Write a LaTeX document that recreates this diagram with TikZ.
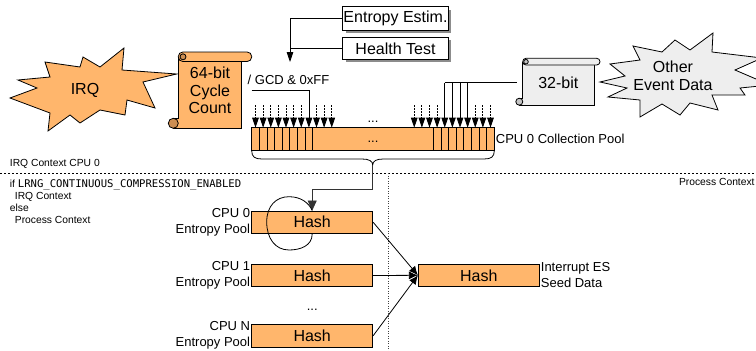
\documentclass[tikz,border=0pt]{standalone}
\usepackage{fontspec}
\setmainfont{Liberation Sans}
\newfontfamily\monof{DejaVu Sans Mono}
\usetikzlibrary{arrows.meta,shadows}
\definecolor{orfill}{RGB}{255,182,108}
\definecolor{orcurl}{RGB}{205,142,82}
\definecolor{gyfill}{RGB}{238,238,238}
\definecolor{gycurl}{RGB}{195,195,195}
\newcommand\fsbig{\fontsize{16}{17.5}\selectfont}
\newcommand\fsmed{\fontsize{13}{15.4}\selectfont}
\newcommand\fssmall{\fontsize{10.3}{12}\selectfont}
\tikzset{
  hashbox/.style={draw, fill=orfill, minimum width=121pt, minimum height=22.5pt, inner sep=0pt, font=\fsbig},
  lbl/.style={align=right, anchor=east, font=\fsmed, inner sep=0pt},
  tbox/.style={draw, fill=white, minimum width=105.6pt, minimum height=22.5pt, inner sep=0pt, font=\fsbig,
     drop shadow={shadow xshift=3pt, shadow yshift=-3pt, fill=black!45, opacity=1}},
  pooltip/.style={-{Triangle[width=6.6pt,length=10pt]}},
  dotin/.style={dash pattern=on 1.5pt off 1.5pt},
  hasharrow/.style={-{Latex[width=8pt,length=9pt]}},
  plain/.style={inner sep=0pt},
}
\begin{document}
\begin{tikzpicture}[x=1pt,y=-1pt,line width=0.8pt]
\useasboundingbox (0,0) rectangle (756,351);
\clip (0,0) rectangle (756,351);

% IRQ starburst
\filldraw[fill=orfill] (176.7,74) -- (143,82) -- (155,108) -- (127,100) -- (125,115) -- (100,110)
  -- (80,123) -- (70,115) -- (48,131) -- (50,113) -- (10,98) -- (37,88) -- (18,80) -- (50,77)
  -- (45,62) -- (80,67) -- (83,57) -- (100,67) -- (124,48) -- (122,70) -- cycle;
\node[plain, font=\fsbig] (irq) at (85,90.7) {IRQ};

% 64-bit scroll
\filldraw[fill=orfill] (178.3,57) -- (241.7,57) -- (241.7,128.3) -- (173.3,128.3) -- (173.3,118.3) -- (178.3,118.3) -- cycle;
\filldraw[fill=orcurl] (173.3,123.3) circle[radius=5pt];
\filldraw[fill=orfill, rounded corners=4.5pt] (178.3,52) rectangle (251.7,61.5);
\filldraw[fill=orcurl] (183,56.8) circle[radius=3pt];
\node[plain, font=\fsbig, align=center] (cyc) at (210,90.5) {64-bit\\Cycle\\Count};

% Other event data starburst
\filldraw[fill=gyfill] (600,82) -- (625,76) -- (610,64) -- (640,60) -- (633,46) -- (662,52) -- (675,40)
  -- (690,50) -- (713,33) -- (712,52) -- (762,58) -- (735,70) -- (770,85) -- (740,88) -- (745,95)
  -- (712,95) -- (718,110) -- (690,103) -- (680,115) -- (662,104) -- (640,117) -- (640,100)
  -- (608,97) -- (627,88) -- cycle;
\node[plain, font=\fsbig, align=center] (oth) at (673,76) {Other\\Event Data};

% 32-bit scroll
\filldraw[fill=gyfill] (522.7,62) -- (594,62) -- (594,105) -- (519.3,105) -- (519.3,98.2) -- (522.7,98.2) -- cycle;
\filldraw[fill=gycurl] (519.3,101.7) circle[radius=3.5pt];
\filldraw[fill=gyfill, rounded corners=3.3pt] (522.7,58.3) rectangle (600,65);
\filldraw[fill=gycurl] (526,61.7) circle[radius=2.3pt];
\node[plain, font=\fsbig] (b32) at (558.3,82.7) {32-bit};
\coordinate (b32in) at (516.7,82.5);

% Entropy estimation / health test
\node[tbox, minimum height=23.3pt] (ee) at (395.5,18.3) {Entropy Estim.};
\node[tbox, minimum height=22pt] (ht) at (395.5,48.3) {Health Test};
\coordinate (esttip) at (290,62);
\draw[pooltip] (ee.west) -- (290,18.3) -- (esttip);
\draw (ht.west) -- (290,48.3);

% GCD label
\node[plain, anchor=west, font=\fsmed] (gcd) at (247.3,80) {/ GCD \& 0xFF};

% collection pool
\node[draw, fill=orfill, minimum width=242.6pt, minimum height=23pt, inner sep=0pt] (pool) at (373,139.2) {};
\foreach \k in {1,...,8} {
  \draw ({251.7+7.625*\k},127.7) -- ++(0,23);
  \draw ({494.3-7.625*\k},127.7) -- ++(0,23);
}
\node[plain, font=\fsmed] (pdots) at (373,141.5) {...};
\node[plain, font=\fsmed] (adots) at (373,121.5) {...};
\node[plain, anchor=west, font=\fsmed] (plbl) at (495.5,138.5) {CPU 0 Collection Pool};

% arrows into pool
\foreach \k in {0,1,2,3,4,5,6,8,9,10}
  \draw[dotin, pooltip] ({255.5+7.625*\k},105) -- ({255.5+7.625*\k},127.7);
\coordinate (gcdstart) at (251.7,90.7);
\draw[pooltip] (gcdstart) -- (308.9,90.7) -- (308.9,127.7);
\foreach \k in {0,1,2,7,8,9,10}
  \draw[dotin, pooltip] ({490.5-7.625*\k},105) -- ({490.5-7.625*\k},127.7);
\draw (b32in) -- (444.8,82.5);
\foreach \k in {3,...,6}
  \draw[pooltip] ({490.5-7.625*\k},82.5) -- ({490.5-7.625*\k},127.7);

% brace
\coordinate (bt) at (372.7,165);
\draw (251.7,150.7) .. controls (251.7,157) and (255,159) .. (262,159) -- (362,159)
  .. controls (369,159) and (372.7,161) .. (bt)
  .. controls (372.7,161) and (376.4,159) .. (383.4,159) -- (484,159)
  .. controls (491,159) and (494.3,157) .. (494.3,150.7);

% context separators
\draw[dash pattern=on 2pt off 2pt] (0,173.3) -- (756,173.3);
\draw[black!75, dash pattern=on 1pt off 1.5pt] (388,173.3) -- (388,351);

% texts on left
\node[plain, anchor=west, font=\fssmall] (irqctx) at (9.5,164.3) {IRQ Context CPU 0};
\node[plain, anchor=north west, align=left, font=\fssmall] (cond) at (9.5,179.2)
  {if {\fontsize{10.6}{12}\monof LRNG\_CONTINUOUS\_COMPRESSION\_ENABLED}\\
   \hspace*{5pt}IRQ Context\\
   else\\
   \hspace*{5pt}Process Context};
\node[plain, anchor=east, font=\fssmall] (pctx) at (755,182.3) {Process Context};

% hash boxes
\node[hashbox] (h0) at (312.2,222.2) {Hash};
\node[hashbox] (h1) at (312.2,275.5) {Hash};
\node[hashbox, minimum height=23pt] (hN) at (312.2,335.8) {Hash};
\node[hashbox, minimum height=22.7pt] (hs) at (478.8,275.3) {Hash};
\node[plain, font=\fsmed] (hdots) at (312.2,310) {...};

\node[lbl] (l0) at (250.5,222.5) {CPU 0\\Entropy Pool};
\node[lbl] (l1) at (250.5,275.5) {CPU 1\\Entropy Pool};
\node[lbl] (lN) at (250.5,335.5) {CPU N\\Entropy Pool};
\node[plain, anchor=west, align=left, font=\fsmed] (seed) at (540.5,275) {Interrupt ES\\Seed Data};

% brace to CPU 0 hash
\draw[black!80, -{Triangle[width=9pt,length=10pt]}] (bt) -- (372.7,189.3) -| (h0.north);
% self loop
\draw (h0.south) .. controls (312.2,246) and (300,250) .. (289,250)
  .. controls (275,250) and (266.7,238) .. (266.7,222)
  .. controls (266.7,206) and (276,196.7) .. (289,196.7)
  .. controls (301,196.7) and (309,203) .. (h0.north);

% hash arrows
\draw[hasharrow] (h0.east) -- (hs.west);
\draw[hasharrow] (h1.east) -- (hs.west);
\draw[hasharrow] (hN.east) -- (hs.west);
\end{tikzpicture}
\end{document}
